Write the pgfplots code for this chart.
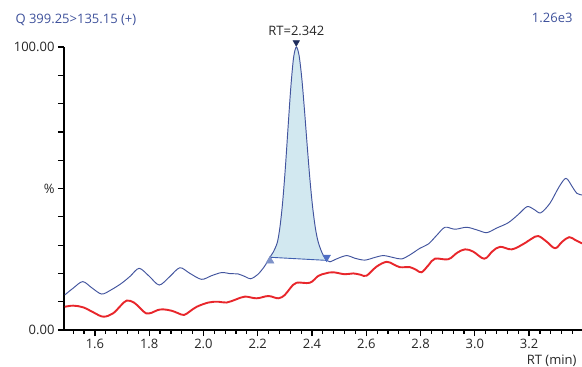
\documentclass[border=0pt]{standalone}
\usepackage{pgfplots}
\pgfplotsset{compat=1.18}
\usepackage{fontspec}
\setmainfont{Open Sans}
\definecolor{titleblue}{HTML}{3E519B}
\definecolor{traceblue}{HTML}{42549E}
\definecolor{tracered}{HTML}{E8262B}
\definecolor{fillblue}{HTML}{D2E8F0}
\definecolor{markleft}{HTML}{7F93C9}
\definecolor{markright}{HTML}{4F6FC4}
\definecolor{markapex}{HTML}{1F2D5C}
\definecolor{basel}{HTML}{3F5FB0}
\begin{document}
\begin{tikzpicture}
\path[use as bounding box] (0,0) rectangle (582pt,-367pt);
\node[anchor=base west, text=titleblue, font=\fontsize{13}{15}\selectfont] at (12pt,-23pt) {Q 399.25>135.15 (+)};
\node[anchor=base east, text=titleblue, font=\fontsize{13}{15}\selectfont] at (576pt,-22pt) {1.26e3};
\node[anchor=base east, text=black!85, font=\fontsize{13}{15}\selectfont] at (580pt,-364pt) {RT (min)};
\begin{axis}[
  anchor=south west, at={(64pt,-330pt)},
  scale only axis, width=518pt, height=283pt,
  xmin=1.486, xmax=3.395, ymin=0, ymax=100,
  clip=false,
  axis x line*=bottom, axis y line*=left,
  axis line style={line width=1.6pt, black},
  tick align=outside,
  major tick length=6pt, minor tick length=3.6pt,
  every tick/.style={black, line width=1.2pt},
  xtick={1.6,1.8,2.0,2.2,2.4,2.6,2.8,3.0,3.2},
  xticklabels={1.6,1.8,2.0,2.2,2.4,2.6,2.8,3.0,3.2},
  minor xtick={1.52,1.56,1.64,1.68,1.72,1.76,1.84,1.88,1.92,1.96,2.04,2.08,2.12,2.16,2.24,2.28,2.32,2.36,2.44,2.48,2.52,2.56,2.64,2.68,2.72,2.76,2.84,2.88,2.92,2.96,3.04,3.08,3.12,3.16,3.24,3.28,3.32,3.36},
  ytick={0,10,20,30,40,50,60,70,80,90,100},
  yticklabels={0.00,,,,,\%,,,,,100.00},
  every tick label/.append style={font=\fontsize{13}{15}\selectfont, text=black!85},
]
% peak fill
\addplot[draw=none, fill=fillblue, smooth, tension=0.5] coordinates {
(2.245,25.7)(2.257,27.5)(2.272,30.9)(2.282,36.5)(2.292,45.4)(2.302,57.6)(2.312,72.0)(2.322,85.9)(2.332,96.2)(2.342,100)(2.352,97.2)(2.362,89.3)(2.372,78.0)(2.382,65.5)(2.392,53.6)(2.402,43.7)(2.412,36.3)(2.422,31.4)(2.437,27.3)(2.454,24.6)
} -- cycle;
% baseline
\addplot[basel, line width=0.9pt] coordinates {(2.245,25.7)(2.454,24.6)};
% red trace
\addplot[tracered, line width=1.9pt, smooth, tension=0.6] coordinates {
(1.489,8.2)(1.520,8.6)(1.557,8.0)(1.595,6.2)(1.631,4.7)(1.667,5.9)(1.695,8.6)(1.717,10.4)(1.744,9.7)(1.768,7.6)(1.788,5.9)(1.809,6.1)(1.830,7.0)(1.852,7.3)(1.883,6.8)(1.905,6.0)(1.928,5.3)(1.950,6.6)(1.975,8.2)(2.018,9.7)(2.054,10.0)(2.085,9.7)(2.12,10.8)(2.153,11.8)(2.196,11.2)(2.239,12.0)(2.276,11.2)(2.300,12.4)(2.320,14.8)(2.343,16.7)(2.392,16.7)(2.423,19.1)(2.450,20.0)(2.478,20.4)(2.521,19.7)(2.552,20.0)(2.580,19.5)(2.601,19.2)(2.638,22.4)(2.675,24.1)(2.700,23.2)(2.724,22.2)(2.761,22.2)(2.785,21.2)(2.804,20.4)(2.830,23.0)(2.853,25.2)(2.902,25.0)(2.935,27.3)(2.964,28.5)(2.994,27.7)(3.035,25.2)(3.065,27.8)(3.093,29.4)(3.136,28.5)(3.179,30.4)(3.210,32.3)(3.234,33.2)(3.265,31.2)(3.296,28.9)(3.322,31.2)(3.348,32.8)(3.370,31.8)(3.395,30.6)
};
% blue trace
\addplot[traceblue, line width=0.95pt, smooth, tension=0.5] coordinates {
(1.489,12.4)(1.520,14.8)(1.555,17.1)(1.590,14.8)(1.625,12.7)(1.660,14.2)(1.698,16.5)(1.730,19.0)(1.763,21.8)(1.800,19.0)(1.837,15.9)(1.875,18.8)(1.913,22.0)(1.950,20.0)(1.993,17.9)(2.030,19.2)(2.067,20.3)(2.100,19.9)(2.128,19.8)(2.155,18.8)(2.174,18.1)(2.200,19.6)(2.225,22.5)(2.245,25.7)
(2.257,27.5)(2.272,30.9)(2.282,36.5)(2.292,45.4)(2.302,57.6)(2.312,72.0)(2.322,85.9)(2.332,96.2)(2.342,100)(2.352,97.2)(2.362,89.3)(2.372,78.0)(2.382,65.5)(2.392,53.6)(2.402,43.7)(2.412,36.3)(2.422,31.4)(2.437,27.3)(2.454,24.6)
(2.466,24.1)(2.495,25.3)(2.528,26.3)(2.560,25.3)(2.595,24.7)(2.630,25.6)(2.663,26.3)(2.700,25.6)(2.730,25.1)(2.760,26.5)(2.798,28.9)(2.829,30.4)(2.860,33.5)(2.890,36.3)(2.927,35.6)(2.970,36.3)(3.010,35.3)(3.044,34.4)(3.080,36.0)(3.123,37.9)(3.160,40.8)(3.193,43.6)(3.220,42.5)(3.243,41.4)(3.277,44.8)(3.310,50.5)(3.336,53.6)(3.360,50.5)(3.376,48.3)(3.395,47.7)
};
% markers
\addplot[only marks, mark=triangle*, mark size=4.6pt, color=markleft, mark options={yshift=-3.5pt}] coordinates {(2.245,25.7)};
\addplot[only marks, mark=triangle*, mark size=4.4pt, color=markright, mark options={yshift=3pt, rotate=180}] coordinates {(2.454,24.6)};
\addplot[only marks, mark=triangle*, mark size=3.8pt, color=markapex, mark options={yshift=4.5pt, rotate=180}] coordinates {(2.342,100)};
\node[anchor=base, text=black!85, font=\fontsize{13}{15}\selectfont] at (axis cs:2.342,100) [yshift=12pt] {RT=2.342};
\end{axis}
\end{tikzpicture}
\end{document}
